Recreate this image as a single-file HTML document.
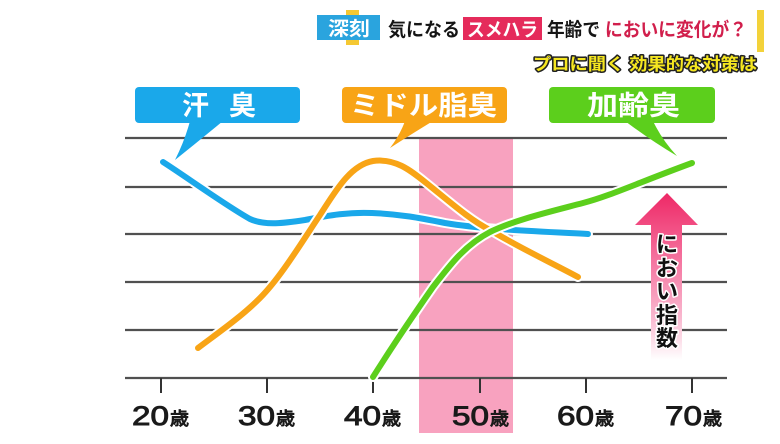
<!DOCTYPE html>
<html><head><meta charset="utf-8">
<style>
html,body{margin:0;padding:0;background:#fff;}
svg{display:block;}
text{font-family:"Liberation Sans","Noto Sans CJK JP",sans-serif;font-weight:bold;}
text.lbl{font-weight:normal;}
</style></head>
<body>
<svg width="780" height="444" viewBox="0 0 780 444" xmlns="http://www.w3.org/2000/svg">
<defs>
<linearGradient id="ag" x1="0" y1="0" x2="0" y2="1">
<stop offset="0" stop-color="#ee2866"/>
<stop offset="0.35" stop-color="#f46a98"/>
<stop offset="0.75" stop-color="#f9b9d0"/>
<stop offset="1" stop-color="#ffffff"/>
</linearGradient>
</defs>
<rect width="780" height="444" fill="#fff"/>

<!-- header -->
<rect x="346" y="10" width="13" height="35" fill="#f5c832"/>
<rect x="317" y="15" width="63" height="25" fill="#2aa4de"/>
<text x="328" y="35" font-size="19" fill="#fff" textLength="42" lengthAdjust="spacingAndGlyphs">深刻</text>
<text x="388" y="36" font-size="19" fill="#151515" textLength="72" lengthAdjust="spacingAndGlyphs">気になる</text>
<rect x="463" y="17" width="79" height="23" fill="#e52b5b"/>
<text x="467" y="36" font-size="19" fill="#fff" textLength="71" lengthAdjust="spacingAndGlyphs">スメハラ</text>
<text x="547" y="36" font-size="19" fill="#151515" textLength="53" lengthAdjust="spacingAndGlyphs">年齢で</text>
<text x="605" y="36" font-size="19" fill="#d11f4c" textLength="142" lengthAdjust="spacingAndGlyphs">においに変化が？</text>
<rect x="757" y="10" width="7" height="42" fill="#f3d23a"/>
<text x="533" y="70" font-size="17" fill="#f5e620" stroke="#222" stroke-width="3" paint-order="stroke" stroke-linejoin="round" textLength="224" lengthAdjust="spacingAndGlyphs">プロに聞く 効果的な対策は</text>

<!-- pink band -->
<rect x="419" y="138" width="94" height="295" fill="#f8a2bf"/>

<!-- gridlines -->
<g stroke="#505050" stroke-width="2.2">
<line x1="125" y1="138" x2="727" y2="138"/>
<line x1="125" y1="187" x2="727" y2="187"/>
<line x1="125" y1="234" x2="727" y2="234"/>
<line x1="125" y1="282" x2="727" y2="282"/>
<line x1="125" y1="330" x2="727" y2="330"/>
<line x1="125" y1="378" x2="727" y2="378"/>
</g>
<g stroke="#333" stroke-width="2">
<line x1="161" y1="378" x2="161" y2="393"/>
<line x1="267" y1="378" x2="267" y2="393"/>
<line x1="373" y1="378" x2="373" y2="393"/>
<line x1="480" y1="378" x2="480" y2="393"/>
<line x1="586" y1="378" x2="586" y2="393"/>
<line x1="692" y1="378" x2="692" y2="393"/>
</g>

<!-- axis labels -->
<g fill="#1a1a1a" stroke="#1a1a1a" stroke-width="0.9">
<text class="lbl" x="132" y="425" font-size="27" textLength="37" lengthAdjust="spacingAndGlyphs">20</text>
<text class="lbl" x="170" y="425" font-size="18" textLength="19" lengthAdjust="spacingAndGlyphs">歳</text>
<text class="lbl" x="238" y="425" font-size="27" textLength="37" lengthAdjust="spacingAndGlyphs">30</text>
<text class="lbl" x="276" y="425" font-size="18" textLength="19" lengthAdjust="spacingAndGlyphs">歳</text>
<text class="lbl" x="344" y="425" font-size="27" textLength="37" lengthAdjust="spacingAndGlyphs">40</text>
<text class="lbl" x="382" y="425" font-size="18" textLength="19" lengthAdjust="spacingAndGlyphs">歳</text>
<text class="lbl" x="452" y="425" font-size="27" textLength="37" lengthAdjust="spacingAndGlyphs">50</text>
<text class="lbl" x="490" y="425" font-size="18" textLength="19" lengthAdjust="spacingAndGlyphs">歳</text>
<text class="lbl" x="557" y="425" font-size="27" textLength="37" lengthAdjust="spacingAndGlyphs">60</text>
<text class="lbl" x="595" y="425" font-size="18" textLength="19" lengthAdjust="spacingAndGlyphs">歳</text>
<text class="lbl" x="665" y="425" font-size="27" textLength="37" lengthAdjust="spacingAndGlyphs">70</text>
<text class="lbl" x="703" y="425" font-size="18" textLength="19" lengthAdjust="spacingAndGlyphs">歳</text>
</g>

<!-- arrow -->
<path d="M667,193 L698,225 L682,225 L682,360 L651,360 L651,225 L635,225 Z" fill="url(#ag)"/>
<g fill="#111" stroke="#fff" stroke-width="3" paint-order="stroke" stroke-linejoin="round" font-size="22" text-anchor="middle">
<text x="667" y="252">に</text>
<text x="667" y="276">お</text>
<text x="667" y="299">い</text>
<text x="667" y="323">指</text>
<text x="667" y="346">数</text>
</g>

<!-- callouts -->
<rect x="135" y="87" width="165" height="36" rx="4" fill="#1aa8ea"/>
<path d="M190,121 L223,121 Q200,140 175,160 Q185,140 190,121 Z" fill="#1aa8ea"/>
<text x="182" y="115" font-size="27" fill="#fff">汗</text>
<text x="229" y="115" font-size="27" fill="#fff">臭</text>

<rect x="342" y="87" width="165" height="36" rx="4" fill="#f8a416"/>
<path d="M405,121 L433,121 Q410,135 390,148 Q400,135 405,121 Z" fill="#f8a416"/>
<text x="350" y="115" font-size="27" fill="#fff" textLength="147" lengthAdjust="spacingAndGlyphs">ミドル脂臭</text>

<rect x="549" y="87" width="166" height="36" rx="4" fill="#5ccf1c"/>
<path d="M625,121 L653,121 Q662,140 677,156 Q650,140 625,121 Z" fill="#5ccf1c"/>
<text x="587" y="115" font-size="27" fill="#fff" textLength="93" lengthAdjust="spacingAndGlyphs">加齢臭</text>

<!-- series -->
<g fill="none" stroke-linecap="round" stroke-linejoin="round">
<path d="M163,162 C185,176 225,205 250,219 C265,226 285,223 305,220 C330,215 350,212 372,213 C400,214 420,218 445,223 C480,229 530,231 588,234" stroke="#fff" stroke-width="10"/>
<path d="M163,162 C185,176 225,205 250,219 C265,226 285,223 305,220 C330,215 350,212 372,213 C400,214 420,218 445,223 C480,229 530,231 588,234" stroke="#1aa8ea" stroke-width="6"/>
<path d="M198,348 C215,335 240,318 260,298 C280,278 300,245 320,215 C335,192 350,165 373,161 C395,158 410,170 425,182 C450,202 470,220 490,230 C520,248 550,262 578,277" stroke="#fff" stroke-width="10"/>
<path d="M198,348 C215,335 240,318 260,298 C280,278 300,245 320,215 C335,192 350,165 373,161 C395,158 410,170 425,182 C450,202 470,220 490,230 C520,248 550,262 578,277" stroke="#f8a416" stroke-width="6"/>
<path d="M373,377 C390,350 410,320 433,287 C450,265 465,245 490,232 C515,220 545,213 583,203 C610,196 640,182 692,163" stroke="#fff" stroke-width="10"/>
<path d="M373,377 C390,350 410,320 433,287 C450,265 465,245 490,232 C515,220 545,213 583,203 C610,196 640,182 692,163" stroke="#5ccf1c" stroke-width="6"/>
</g>
</svg>
</body></html>
